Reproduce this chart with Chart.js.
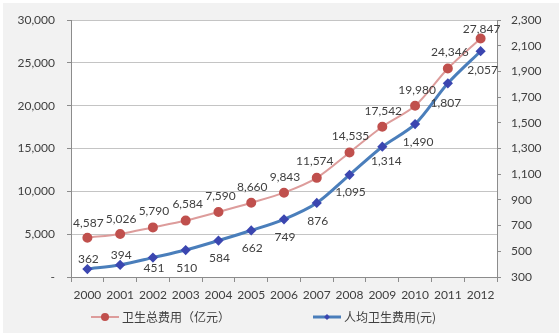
<!DOCTYPE html>
<html>
<head>
<meta charset="utf-8">
<script src="https://cdn.jsdelivr.net/npm/chart.js@4.4.1/dist/chart.umd.min.js"></script>
<style>
  html, body { margin: 0; padding: 0; background: #ffffff; }
  #wrap { width: 559px; height: 333px; }
</style>
</head>
<body>
<div id="wrap"><canvas id="chart" width="559" height="333"></canvas></div>
<script>
// chart data
const years = ['2000', '2001', '2002', '2003', '2004', '2005', '2006', '2007', '2008', '2009', '2010', '2011', '2012'];
const totalCost = [4587, 5026, 5790, 6584, 7590, 8660, 9843, 11574, 14535, 17542, 19980, 24346, 27847];
const perCapita = [362, 394, 451, 510, 584, 662, 749, 876, 1095, 1314, 1490, 1807, 2057];
const seriesNames = ['卫生总费用（亿元）', '人均卫生费用(元)'];

// where the value labels sit relative to each point [dx, dy]
const totalLabelOffsets = [[1, -15], [1, -15], [1, -16], [2, -16], [2, -16], [1, -16], [1, -16], [-2, -17], [1, -16], [1, -16], [2, -16], [2, -16], [1, -9]];
const perCapitaLabelOffsets = [[1, -10], [1, -10], [1, 11], [1, 18], [1, 18], [1, 18], [1, 18], [1, 18], [1, 17], [4, 14], [3, 18], [-2, 20], [2, 19]];

const fmt = v => v.toLocaleString('en-US');
const axisFont = { family: 'Lato, "Noto Sans", sans-serif', size: 12 };
const textColor = '#404040';
const axisColor = '#8c8c8c';

// draw grey frame and white plot area
const backgroundPlugin = {
    id: 'background',
    beforeDraw(chart) {
        const { ctx, chartArea } = chart;
        ctx.save();
        ctx.fillStyle = '#ffffff';
        ctx.fillRect(0, 0, chart.width, chart.height);
        ctx.fillStyle = '#f2f2f2';
        ctx.fillRect(3, 3, chart.width - 3, chart.height - 3);
        ctx.fillStyle = '#ffffff';
        ctx.fillRect(chartArea.left, chartArea.top, chartArea.right - chartArea.left, chartArea.bottom - chartArea.top);
        ctx.restore();
    }
};

// value labels next to every point
const valueLabelPlugin = {
    id: 'valueLabels',
    afterDatasetsDraw(chart) {
        const { ctx } = chart;
        ctx.save();
        ctx.font = '12px Lato, "Noto Sans", sans-serif';
        ctx.fillStyle = textColor;
        ctx.textAlign = 'center';
        ctx.textBaseline = 'middle';
        chart.data.datasets.forEach((ds, i) => {
            const meta = chart.getDatasetMeta(i);
            meta.data.forEach((pt, j) => {
                const off = ds.labelOffsets[j];
                ctx.fillText(fmt(ds.data[j]), pt.x + off[0], pt.y + off[1]);
            });
        });
        ctx.restore();
    }
};

// legend: line + marker, then name
const legendPlugin = {
    id: 'lineLegend',
    afterDraw(chart) {
        const { ctx } = chart;
        const y = 317;
        const iconW = 28;
        const gap = 83;
        ctx.save();
        ctx.font = '12px "Noto Sans CJK SC", sans-serif';
        const widths = chart.data.datasets.map(ds => iconW + 3 + ctx.measureText(ds.label).width);
        let x = Math.round(264 - (widths[0] + gap + widths[1]) / 2);
        chart.data.datasets.forEach((ds, i) => {
            ctx.strokeStyle = ds.borderColor;
            ctx.lineWidth = ds.borderWidth;
            ctx.beginPath();
            ctx.moveTo(x, y);
            ctx.lineTo(x + iconW, y);
            ctx.stroke();
            const cx = x + iconW / 2;
            const r = ds.pointRadius;
            ctx.fillStyle = ds.pointBackgroundColor;
            ctx.beginPath();
            if (ds.pointStyle === 'circle') {
                ctx.arc(cx, y, r, 0, Math.PI * 2);
            } else {
                ctx.moveTo(cx, y - r);
                ctx.lineTo(cx + r, y);
                ctx.lineTo(cx, y + r);
                ctx.lineTo(cx - r, y);
                ctx.closePath();
            }
            ctx.fill();
            ctx.fillStyle = textColor;
            ctx.textAlign = 'left';
            ctx.textBaseline = 'middle';
            ctx.fillText(ds.label, x + iconW + 3, y);
            x += widths[i] + gap;
        });
        ctx.restore();
    }
};

new Chart(document.getElementById('chart'), {
    type: 'line',
    data: {
        labels: years,
        datasets: [{
            label: seriesNames[0],
            data: totalCost,
            yAxisID: 'y',
            borderColor: '#dd9c9b',
            borderWidth: 2,
            pointStyle: 'circle',
            pointRadius: 4,
            pointBackgroundColor: '#c0504d',
            pointBorderColor: '#c0504d',
            tension: 0.3,
            labelOffsets: totalLabelOffsets
        }, {
            label: seriesNames[1],
            data: perCapita,
            yAxisID: 'y1',
            borderColor: '#4a7ebb',
            borderWidth: 3,
            pointStyle: 'rectRot',
            pointRadius: 3,
            pointBackgroundColor: '#3b46b0',
            pointBorderColor: '#3b46b0',
            tension: 0.3,
            labelOffsets: perCapitaLabelOffsets
        }]
    },
    options: {
        responsive: false,
        animation: false,
        layout: { padding: { top: 20, left: 3, right: 0, bottom: 26 } },
        plugins: {
            legend: { display: false },
            tooltip: { enabled: false }
        },
        scales: {
            x: {
                offset: true,
                grid: { offset: true, drawOnChartArea: false, tickLength: 5, color: axisColor },
                border: { color: axisColor },
                ticks: { color: textColor, font: axisFont, padding: 6, maxRotation: 0 },
                afterFit: s => { s.height = 30; }
            },
            y: {
                position: 'left',
                min: 0,
                max: 30000,
                ticks: {
                    stepSize: 5000,
                    color: textColor,
                    font: axisFont,
                    padding: 12,
                    callback: v => v === 0 ? '-' : fmt(v)
                },
                grid: { color: '#c4c4c4', tickColor: axisColor, tickLength: 4 },
                border: { color: axisColor },
                afterFit: s => { s.width = 68; }
            },
            y1: {
                position: 'right',
                min: 300,
                max: 2300,
                ticks: { stepSize: 200, color: textColor, font: axisFont, padding: 10, callback: v => fmt(v) },
                grid: { drawOnChartArea: false, color: axisColor, tickLength: 4 },
                border: { color: axisColor },
                afterFit: s => { s.width = 62; }
            }
        }
    },
    plugins: [backgroundPlugin, valueLabelPlugin, legendPlugin]
});
</script>
</body>
</html>
